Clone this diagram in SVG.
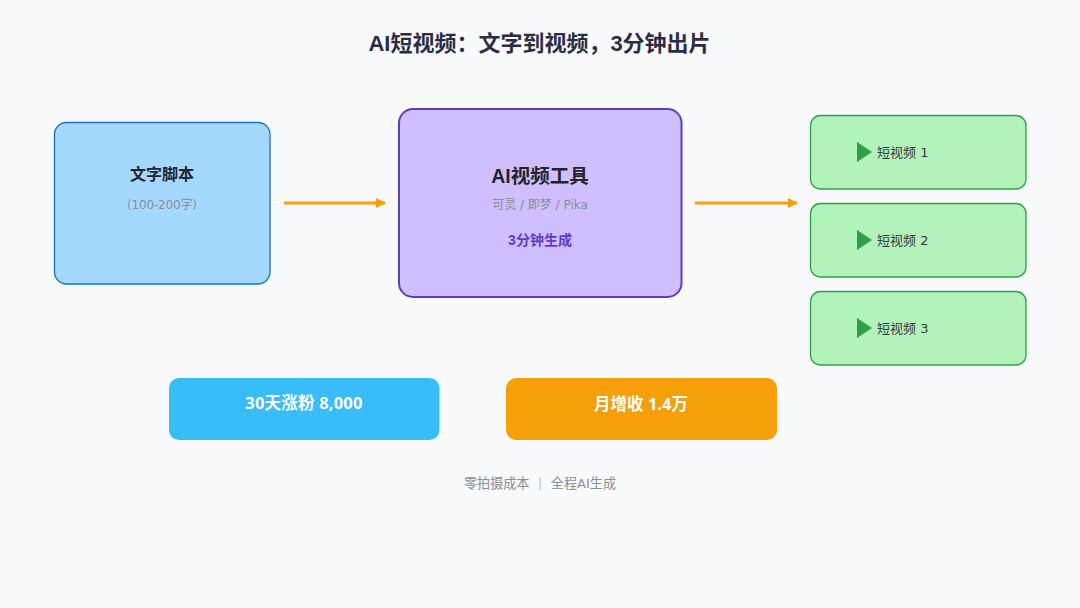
<svg xmlns="http://www.w3.org/2000/svg" width="1080" height="608" viewBox="0 0 1080 608">
<style>
text{font-family:"DejaVu Sans","Noto Sans CJK SC",sans-serif;text-anchor:middle}
.h{font-family:"Liberation Sans","Noto Sans CJK SC",sans-serif;font-weight:700}
.out rect{fill:#b2f2bb;stroke:#2f9e44;stroke-width:1.300}
.out path{fill:#2f9e44}
.out text{font-size:13px;fill:#343a40;text-anchor:start}
.sub{font-size:12px;fill:#868e96}
.stat{font-family:"Noto Sans","Noto Sans CJK SC",sans-serif;font-size:16.500px;fill:#fff;font-weight:700}
.c{stroke:#f59f0b;stroke-width:3;fill:none}
</style>
<defs><marker id="a" markerUnits="userSpaceOnUse" markerWidth="10" markerHeight="12" refX="9" refY="5" orient="auto"><path d="M0 0L10 5L0 10Z" fill="#f59f0b"/></marker></defs>
<rect width="1080" height="608" fill="#f8fafc"/>
<text id="title" class="h" x="539.500" y="51" font-size="22" fill="#2b2d42">AI短视频：文字到视频，3分钟出片</text>
<g id="connectors">
<line class="c" x1="284" y1="203" x2="385" y2="203" marker-end="url(#a)"/>
<line class="c" x1="695" y1="203" x2="797" y2="203" marker-end="url(#a)"/>
</g>
<g id="script">
<rect x="54.500" y="122.500" width="215.500" height="161.500" rx="12" fill="#a5d8ff" stroke="#1971c2" stroke-width="1.300"/>
<text class="h" x="162" y="180" font-size="16" fill="#212529">文字脚本</text>
<text class="sub" x="162" y="209" font-size="12" textLength="70">(100-200字)</text>
</g>
<g id="tool">
<rect x="399" y="109" width="282.500" height="188" rx="14" fill="#d0bfff" stroke="#5f3dc4" stroke-width="2"/>
<text class="h" x="540" y="183" font-size="19.500" fill="#212529">AI视频工具</text>
<text class="sub" x="540" y="209">可灵 / 即梦 / Pika</text>
<text class="h" x="540" y="245" font-size="14" fill="#5f3dc4">3分钟生成</text>
</g>
<g id="video1" class="out"><rect x="810.500" y="115.500" width="215.500" height="73.500" rx="10"/><path d="M857 142L872 152L857 162Z"/><text x="877" y="156.500">短视频 1</text></g>
<g id="video2" class="out"><rect x="810.500" y="203.500" width="215.500" height="73.500" rx="10"/><path d="M857 230L872 240L857 250Z"/><text x="877" y="244.500">短视频 2</text></g>
<g id="video3" class="out"><rect x="810.500" y="291.500" width="215.500" height="73.500" rx="10"/><path d="M857 318L872 328L857 338Z"/><text x="877" y="332.500">短视频 3</text></g>
<g id="fans"><rect x="169" y="378" width="270.500" height="62" rx="10" fill="#38bdf8"/><text class="stat" x="304" y="409" letter-spacing="0.200">30天涨粉 8,000</text></g>
<g id="income"><rect x="506" y="378" width="271" height="62" rx="10" fill="#f59f0b"/><text class="stat" x="641" y="410">月增收 1.4万</text></g>
<text id="note" x="540" y="488" font-size="13.100" fill="#868e96">零拍摄成本 ｜ 全程AI生成</text>
</svg>
